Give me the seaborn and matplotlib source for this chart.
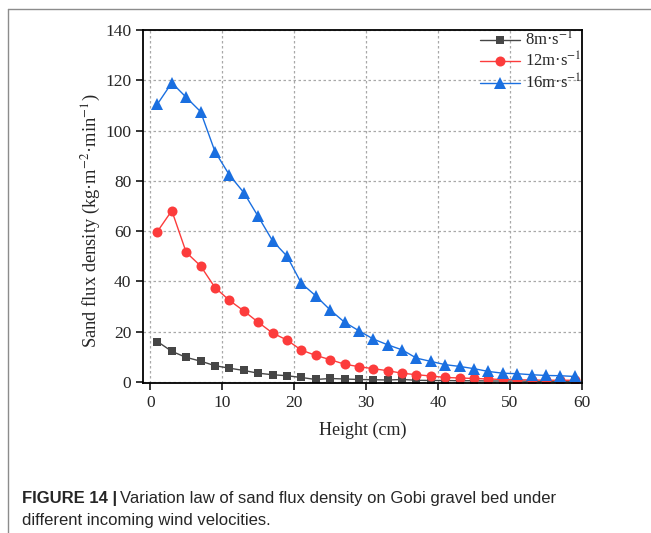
import numpy as np
import pandas as pd
import seaborn as sns
import matplotlib.pyplot as plt
from matplotlib import font_manager
from matplotlib.lines import Line2D

# =============================================================================
height = list(range(1, 60, 2))

flux_8 = [16.0, 12.1, 9.7, 8.2, 6.4, 5.4, 4.5, 3.4, 2.8, 2.4,
          1.7, 0.9, 1.3, 1.1, 0.9, 0.8, 0.7, 0.9, 0.6, 0.5,
          0.5, 0.4, 0.4, 0.3, 0.3, 0.3, 0.2, 0.2, 0.2, 0.2]
flux_12 = [59.8, 68.1, 51.5, 46.1, 37.5, 32.4, 28.2, 23.7, 19.4, 16.6,
           12.6, 10.5, 8.8, 7.0, 6.0, 5.2, 4.4, 3.4, 2.8, 2.3,
           1.7, 1.5, 1.3, 1.1, 0.9, 0.8, 0.7, 0.6, 0.6, 0.6]
flux_16 = [110.5, 119.0, 113.2, 107.5, 91.6, 82.3, 75.3, 65.8, 56.1, 50.0,
           39.2, 34.2, 28.6, 23.7, 20.3, 17.0, 14.7, 12.7, 9.4, 8.1,
           6.8, 6.1, 5.2, 4.1, 3.4, 3.2, 2.8, 2.5, 2.4, 2.1]

labels = ['8m·s$^{-1}$', '12m·s$^{-1}$', '16m·s$^{-1}$']
colors = ['#464646', '#fc3c3c', '#1a6fe0']
markers = ['s', 'o', '^']
msizes = [6.0, 7.2, 8.0]

# =============================================================================
sns.set_style('ticks')
plt.rcParams['font.family'] = ['Liberation Serif', 'DejaVu Serif']
plt.rcParams['mathtext.fontset'] = 'stix'

fig = plt.figure(figsize=(6.51, 5.33), dpi=100)
ax = fig.add_axes([0.2197, 0.2814, 0.6743, 0.6623])

for flux, c, m, ms in zip([flux_8, flux_12, flux_16], colors, markers, msizes):
    sns.lineplot(x=height, y=flux, color=c, marker=m, markersize=ms,
                 markeredgewidth=0, linewidth=1, ax=ax)

ax.set_xlim(-1, 60)
ax.set_ylim(-0.5, 140)
ax.set_xticks(range(0, 61, 10))
ax.set_yticks(range(0, 141, 20))
ax.grid(True, color='#a8a8a8', linestyle=(0, (2, 2)), linewidth=0.9)
for s in ax.spines.values():
    s.set_visible(True)
    s.set_linewidth(1.3)
    s.set_color('black')
ax.tick_params(direction='out', length=5, width=1.3, labelsize=12.5,
               top=False, right=False)
ax.set_xlabel('Height (cm)', fontsize=13, labelpad=8)
ax.set_ylabel('Sand flux density (kg·m$^{-2}$·min$^{-1}$)', fontsize=13.3)
ax.yaxis.set_label_coords(-0.092, 0.46)

handles = [Line2D([], [], color=c, marker=m, markersize=ms, markeredgewidth=0,
                  linewidth=1) for c, m, ms in zip(colors, markers, msizes)]
ax.legend(handles, labels, loc='upper right', frameon=False, fontsize=12,
          borderaxespad=0.0, handlelength=2.4, handletextpad=0.3,
          labelspacing=0.12, borderpad=0.05)

# frame lines and caption
fig.add_artist(Line2D([8 / 651, 1], [1 - 9 / 533, 1 - 9 / 533],
                      color='#8c8c8c', linewidth=1))
fig.add_artist(Line2D([8 / 651, 8 / 651], [0, 1 - 9 / 533],
                      color='#8c8c8c', linewidth=1))

names = {f.name for f in font_manager.fontManager.ttflist}
if 'Liberation Sans Narrow' in names:
    cap_font, cap_size = ['Liberation Sans Narrow', 'DejaVu Sans'], 14
else:
    cap_font, cap_size = ['Liberation Sans', 'DejaVu Sans'], 12
t = fig.text(22 / 651, 1 - 498 / 533, 'FIGURE 14 |', fontsize=cap_size,
             fontweight='bold', family=cap_font, va='center')
fig.canvas.draw()
bb = t.get_window_extent()
fig.text(bb.x1 / 651 + 0.005, 1 - 498 / 533,
         'Variation law of sand flux density on Gobi gravel bed under',
         fontsize=cap_size, family=cap_font, va='center')
fig.text(22 / 651, 1 - 520 / 533, 'different incoming wind velocities.',
         fontsize=cap_size, family=cap_font, va='center')

fig.savefig('out.png', dpi=100)
